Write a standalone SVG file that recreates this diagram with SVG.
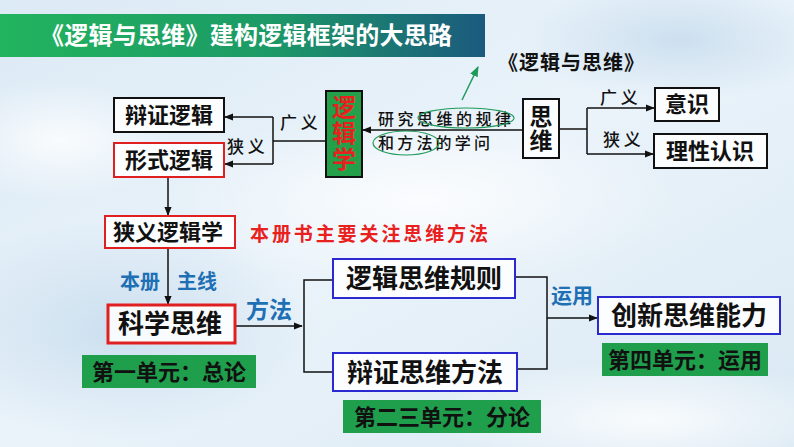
<svg xmlns="http://www.w3.org/2000/svg" width="794" height="447" viewBox="0 0 794 447">
<defs>
<linearGradient id="bg" x1="0" y1="0" x2="1" y2="1">
<stop offset="0" stop-color="#dceaf5"/>
<stop offset="0.5" stop-color="#eaf3fa"/>
<stop offset="1" stop-color="#d9e8f3"/>
</linearGradient>
<radialGradient id="cloud" cx="0.5" cy="0.5" r="0.5">
<stop offset="0" stop-color="#ffffff" stop-opacity="0.8"/>
<stop offset="1" stop-color="#ffffff" stop-opacity="0"/>
</radialGradient>
<radialGradient id="shade" cx="0.5" cy="0.5" r="0.5">
<stop offset="0" stop-color="#b9d3e8" stop-opacity="0.6"/>
<stop offset="1" stop-color="#b9d3e8" stop-opacity="0"/>
</radialGradient>
<linearGradient id="banner" x1="0" y1="0" x2="1" y2="0">
<stop offset="0" stop-color="#22b45e"/>
<stop offset="0.55" stop-color="#1c9a66"/>
<stop offset="1" stop-color="#1b5a7e"/>
</linearGradient>
<marker id="arr" viewBox="0 0 10 10" refX="9" refY="5" markerWidth="6" markerHeight="6" orient="auto">
<path d="M0,1 L10,5 L0,9 z" fill="#111"/>
</marker>
<marker id="garr" viewBox="0 0 10 10" refX="9" refY="5" markerWidth="7" markerHeight="7" orient="auto">
<path d="M0,1 L10,5 L0,9 z" fill="#1f9a5a"/>
</marker>
<style>
.box{fill:#ffffff;fill-opacity:0.85;stroke-width:2}
.bk{stroke:#111}
.rd{stroke:#e02020}
.bl{stroke:#2a2ad0}
.gb{fill:#1f9e4c}
.t{font-family:"Noto Sans CJK SC","Liberation Sans",sans-serif;font-weight:bold;fill:#111;text-anchor:middle}
.v{writing-mode:vertical-rl;text-orientation:upright}
.k{font-family:"Noto Sans CJK SC","Liberation Sans",sans-serif;font-weight:500;fill:#111}
.blue{font-family:"Noto Sans CJK SC","Liberation Sans",sans-serif;font-weight:bold;fill:#1f6fb5}
.ln{fill:none;stroke:#111;stroke-width:1.5}
</style>
</defs>
<rect width="794" height="447" fill="url(#bg)"/>
<ellipse cx="120" cy="330" rx="200" ry="110" fill="url(#shade)"/>
<ellipse cx="680" cy="40" rx="160" ry="60" fill="url(#shade)"/>
<ellipse cx="420" cy="200" rx="260" ry="90" fill="url(#cloud)"/>
<ellipse cx="650" cy="420" rx="220" ry="60" fill="url(#cloud)"/>
<ellipse cx="60" cy="140" rx="120" ry="60" fill="url(#cloud)"/>

<g id="title">
<rect x="0" y="14" width="485" height="43" fill="url(#banner)"/>
<text x="40" y="44" font-family="Noto Sans CJK SC, sans-serif" font-weight="bold" font-size="24" fill="#ffffff" textLength="412">《逻辑与思维》建构逻辑框架的大思路</text>
</g>
<g id="book">
<text x="498" y="70" font-family="Noto Sans CJK SC, sans-serif" font-weight="bold" font-size="20" fill="#111" textLength="146">《逻辑与思维》</text>
</g>

<g id="connectors">
<line x1="462" y1="100" x2="478" y2="67" stroke="#1f9a5a" stroke-width="1.5" marker-end="url(#garr)"/>
<path class="ln" d="M523,130 H363" marker-end="url(#arr)"/>
<path class="ln" d="M326,141 H273"/>
<path class="ln" d="M273,117 V164"/>
<path class="ln" d="M273,117 H225" marker-end="url(#arr)"/>
<path class="ln" d="M273,164 H225" marker-end="url(#arr)"/>
<path class="ln" d="M559,129 H587"/>
<path class="ln" d="M587,108 V154"/>
<path class="ln" d="M587,108 H654" marker-end="url(#arr)"/>
<path class="ln" d="M587,154 H653" marker-end="url(#arr)"/>
<path class="ln" d="M168,177 V215" marker-end="url(#arr)"/>
<path class="ln" d="M168,248 V304" marker-end="url(#arr)"/>
<path class="ln" d="M235,326 H302" marker-end="url(#arr)"/>
<path class="ln" d="M333,280 H304 V372 H333"/>
<path class="ln" d="M515,277 H547 V369 H517"/>
<path class="ln" d="M547,318 H597" marker-end="url(#arr)"/>
</g>

<g id="logic">
<rect x="326" y="91" width="36" height="86" fill="#24a04a" stroke="#111" stroke-width="2"/>
<text class="t v" x="344" y="134" font-size="24" letter-spacing="2" style="fill:#e8201e">逻辑学</text>
</g>

<g id="dialectical-logic">
<rect class="box bk" x="114" y="98" width="110" height="34"/>
<text class="t" x="169" y="123" font-size="22">辩证逻辑</text>
</g>
<g id="formal-logic">
<rect class="box rd" x="114" y="143" width="110" height="34"/>
<text class="t" x="169" y="168" font-size="22">形式逻辑</text>
</g>
<text class="k" x="280" y="129" font-size="17">广 义</text>
<text class="k" x="227" y="153" font-size="17">狭 义</text>

<g id="definition">
<text class="k" x="378" y="125" font-size="16" letter-spacing="3.5">研究思维的规律</text>
<text class="k" x="378" y="149" font-size="16" letter-spacing="3.2">和方法的学问</text>
<ellipse cx="466" cy="118" rx="48" ry="10" fill="none" stroke="#1f9a5a" stroke-width="1.2"/>
<ellipse cx="406" cy="143" rx="33" ry="12" fill="none" stroke="#1f9a5a" stroke-width="1.2"/>
</g>

<g id="thinking">
<rect class="box bk" x="523" y="99" width="36" height="59"/>
<text class="t v" x="541" y="129" font-size="23" letter-spacing="1">思维</text>
</g>
<text class="k" x="600" y="104" font-size="17">广 义</text>
<text class="k" x="603" y="146" font-size="17">狭 义</text>
<g id="consciousness">
<rect class="box bk" x="655" y="88" width="64" height="33"/>
<text class="t" x="687" y="112" font-size="22">意识</text>
</g>
<g id="rational">
<rect class="box bk" x="654" y="134" width="113" height="34"/>
<text class="t" x="710" y="159" font-size="22">理性认识</text>
</g>

<g id="narrow-logic">
<rect class="box rd" x="105" y="216" width="130" height="32"/>
<text class="t" x="168" y="240" font-size="22">狭义逻辑学</text>
</g>
<text x="250" y="241" font-family="Noto Sans CJK SC, sans-serif" font-weight="bold" font-size="19" fill="#e8201e" textLength="238">本册书主要关注思维方法</text>
<text class="blue" x="120" y="289" font-size="20">本册</text>
<text class="blue" x="177" y="289" font-size="20">主线</text>
<text class="blue" x="246" y="318" font-size="23">方法</text>

<g id="scientific">
<rect class="box rd" x="108" y="305" width="127" height="38" style="stroke-width:3"/>
<text class="t" x="170" y="333" font-size="26">科学思维</text>
</g>
<g id="unit1">
<rect class="gb" x="82" y="355" width="174" height="33"/>
<text class="t" x="169" y="380" font-size="22">第一单元：总论</text>
</g>

<g id="rules">
<rect class="box bl" x="333" y="259" width="182" height="39"/>
<text class="t" x="424" y="288" font-size="26">逻辑思维规则</text>
</g>
<g id="dialectical-method">
<rect class="box bl" x="333" y="353" width="184" height="38"/>
<text class="t" x="425" y="382" font-size="26">辩证思维方法</text>
</g>
<g id="unit23">
<rect class="gb" x="343" y="400" width="198" height="33"/>
<text class="t" x="442" y="425" font-size="22">第二三单元：分论</text>
</g>
<text class="blue" x="551" y="303" font-size="21">运用</text>
<g id="innovation">
<rect class="box bl" x="598" y="297" width="182" height="37"/>
<text class="t" x="689" y="325" font-size="26">创新思维能力</text>
</g>
<g id="unit4">
<rect class="gb" x="602" y="343" width="166" height="33"/>
<text class="t" x="685" y="368" font-size="22">第四单元：运用</text>
</g>
</svg>
